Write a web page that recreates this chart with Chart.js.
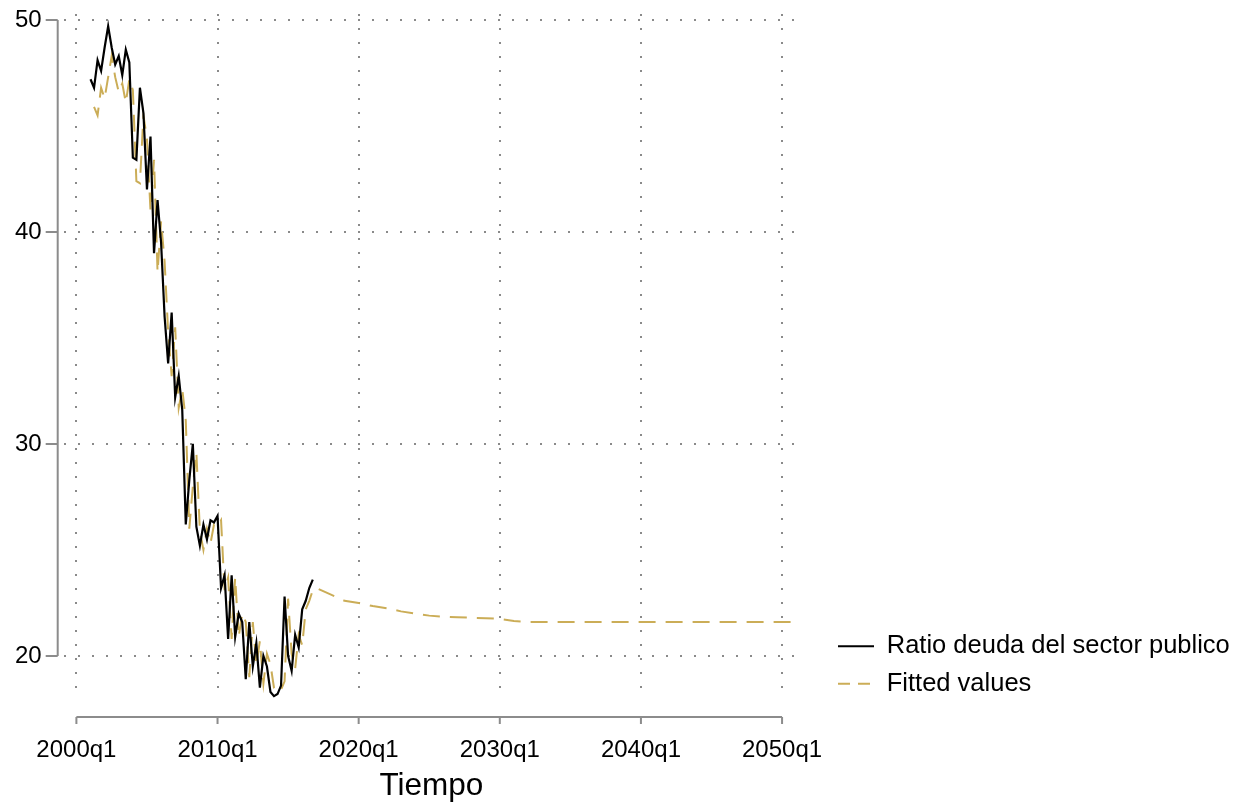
<!DOCTYPE html>
<html>
<head>
<meta charset="utf-8">
<script src="https://cdn.jsdelivr.net/npm/chart.js@4.4.1/dist/chart.umd.min.js"></script>
<style>
  html, body { margin: 0; padding: 0; background: #fff; }
  #wrap { width: 1245px; height: 805px; position: relative; }
</style>
</head>
<body>
<div id="wrap"><canvas id="chart"></canvas></div>
<script>
const FONT = '"Liberation Sans", Arial, sans-serif';

// Ratio deuda del sector publico, quarterly, first value = 2001q1
const actualStart = 2001;
const actual = [
  47.2, 46.8, 48.1, 47.6, 48.7, 49.7, 48.7, 47.9,
  48.3, 47.4, 48.6, 48.0, 43.5, 43.4, 46.8, 45.6,
  42.0, 44.5, 39.0, 41.5, 39.5, 36.0, 33.8, 36.2,
  32.2, 33.2, 31.6, 26.2, 28.3, 30.0, 26.1, 25.2,
  26.2, 25.5, 26.4, 26.3, 26.6, 23.2, 23.8, 20.8,
  23.8, 20.9, 22.0, 21.6, 18.9, 21.6, 19.5, 20.6,
  18.5, 20.0, 19.5, 18.3, 18.1, 18.2, 18.6, 22.8,
  20.0, 19.3, 21.0, 20.4, 22.2, 22.6, 23.2, 23.6
];

// Fitted values in sample, quarterly, first value = 2001q2
const fittedStart = 2001.25;
const fitted = [
        45.9, 45.5, 46.8, 46.3, 47.3, 48.3, 47.3,
  46.6, 47.0, 46.1, 47.2, 46.7, 42.4, 42.3, 45.5,
  44.4, 41.0, 43.4, 38.1, 40.5, 38.6, 35.3, 33.2,
  35.5, 31.7, 32.6, 31.1, 26.0, 28.0, 29.6, 25.9,
  25.0, 26.0, 25.3, 26.2, 26.1, 26.4, 23.1, 23.7,
  20.8, 23.7, 20.9, 22.0, 21.6, 19.0, 21.6, 19.6,
  20.7, 18.7, 20.1, 19.6, 18.5, 18.3, 18.4, 18.8,
  22.7, 20.1, 19.4, 21.0, 20.5, 22.2, 22.6, 23.1
];

// Fitted values out of sample, read once a year (q1)
const forecastYears = [
  2017, 2018, 2019, 2020, 2021, 2022, 2023, 2024, 2025, 2026,
  2027, 2028, 2029, 2030, 2031, 2032, 2033, 2034, 2035, 2036,
  2037, 2038, 2039, 2040, 2041, 2042, 2043, 2044, 2045, 2046,
  2047, 2048, 2049, 2050, 2050.75
];
const forecastValues = [
  23.2, 22.9, 22.6, 22.5, 22.35, 22.25, 22.1, 22.0, 21.9, 21.85,
  21.82, 21.8, 21.78, 21.75, 21.65, 21.6, 21.6, 21.6, 21.6, 21.6,
  21.6, 21.6, 21.6, 21.6, 21.6, 21.6, 21.6, 21.6, 21.6, 21.6,
  21.6, 21.6, 21.6, 21.6, 21.6
];

const xTicks = [2000, 2010, 2020, 2030, 2040, 2050];
const yTicks = [20, 30, 40, 50];

const ratioPoints = actual.map((v, i) => ({ x: actualStart + i / 4, y: v }));
const fittedPoints = fitted
  .map((v, i) => ({ x: fittedStart + i / 4, y: v }))
  .concat(forecastYears.map((yr, i) => ({ x: yr, y: forecastValues[i] })));

// Stata style axes: drawn a little away from the plot region
const offsetAxes = {
  id: "offsetAxes",
  afterDraw(chart) {
    const { ctx, chartArea, scales: { x, y } } = chart;
    const axisY = chartArea.bottom + 17;
    const axisX = chartArea.left - 6;
    ctx.save();
    ctx.strokeStyle = "#8c8c8c";
    ctx.lineWidth = 2;
    ctx.beginPath();
    ctx.moveTo(x.getPixelForValue(xTicks[0]), axisY);
    ctx.lineTo(x.getPixelForValue(xTicks[xTicks.length - 1]), axisY);
    xTicks.forEach(v => {
      const px = x.getPixelForValue(v);
      ctx.moveTo(px, axisY);
      ctx.lineTo(px, axisY + 7);
    });
    ctx.moveTo(axisX, y.getPixelForValue(yTicks[yTicks.length - 1]));
    ctx.lineTo(axisX, y.getPixelForValue(yTicks[0]));
    yTicks.forEach(v => {
      const py = y.getPixelForValue(v);
      ctx.moveTo(axisX - 12, py);
      ctx.lineTo(axisX, py);
    });
    ctx.stroke();
    ctx.restore();
  }
};

// move the legend block down/right of the plot, like the original
const legendPlace = {
  id: "legendPlace",
  afterLayout(chart) {
    const lg = chart.legend;
    if (!lg) return;
    const dx = 838 - (lg.left + lg.options.labels.padding);
    const dy = 708.5 - lg.bottom;
    lg.left += dx;
    lg.right = chart.width;
    lg.width = lg.right - lg.left;
    lg.top += dy; lg.bottom += dy;
  }
};

const gridStyle = { color: "#8a8a8a", lineWidth: 2, drawTicks: false };
const dotted = { display: false, dash: [2, 12] };

new Chart(document.getElementById("chart"), {
  type: "line",
  data: {
    datasets: [
      {
        label: "Ratio deuda del sector publico",
        data: ratioPoints,
        borderColor: "#000000",
        borderWidth: 2.2,
        pointRadius: 0,
        tension: 0
      },
      {
        label: "Fitted values",
        data: fittedPoints,
        borderColor: "#cbad57",
        borderWidth: 2,
        borderDash: [17, 10],
        pointRadius: 0,
        tension: 0
      }
    ]
  },
  options: {
    responsive: true,
    maintainAspectRatio: false,
    animation: false,
    layout: { padding: { top: 14, right: 46, bottom: 0, left: 0 } },
    plugins: {
      tooltip: { enabled: false },
      legend: {
        position: "right",
        align: "end",
        fullSize: false,
        maxWidth: 400,
        labels: {
          font: { family: FONT, size: 25.5 },
          color: "#000",
          usePointStyle: true,
          pointStyle: "line",
          pointStyleWidth: 36,
          boxHeight: 25,
          padding: 12,
          generateLabels: chart =>
            Chart.defaults.plugins.legend.labels.generateLabels(chart).map(item => {
              const ds = chart.data.datasets[item.datasetIndex];
              item.strokeStyle = ds.borderColor;
              item.lineWidth = 2;
              item.lineDash = ds.borderDash ? [12, 8] : [];
              return item;
            })
        }
      }
    },
    scales: {
      x: {
        type: "linear",
        min: 1999.1,
        max: 2051.2,
        afterBuildTicks: s => { s.ticks = xTicks.map(v => ({ value: v })); },
        afterFit: s => { s.height = 105; s.paddingLeft = 0; s.paddingRight = 0; },
        ticks: {
          callback: v => v + "q1",
          font: { family: FONT, size: 24 },
          color: "#000",
          padding: 36,
          maxRotation: 0,
          autoSkip: false
        },
        grid: gridStyle,
        border: dotted,
        title: {
          display: true,
          text: "Tiempo",
          font: { family: FONT, size: 31.5 },
          color: "#000",
          padding: { top: 0, bottom: 0 }
        }
      },
      y: {
        min: 17.92,
        max: 50.28,
        afterBuildTicks: s => { s.ticks = yTicks.map(v => ({ value: v })); },
        afterFit: s => { s.width = 63.7; s.paddingTop = 0; s.paddingBottom = 0; },
        ticks: {
          font: { family: FONT, size: 24 },
          color: "#000",
          padding: 22
        },
        grid: gridStyle,
        border: dotted
      }
    }
  },
  plugins: [offsetAxes, legendPlace]
});
</script>
</body>
</html>
